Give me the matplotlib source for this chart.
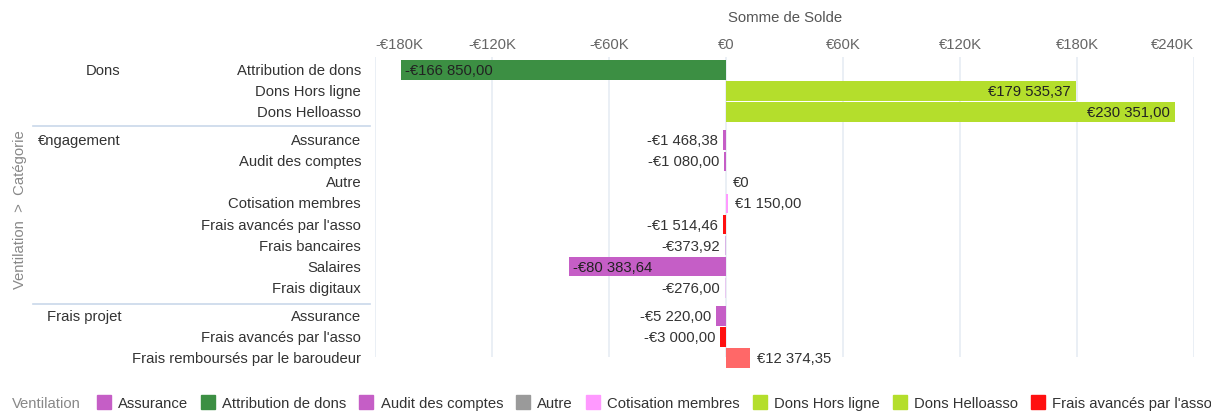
import matplotlib
matplotlib.use('Agg')
import matplotlib.pyplot as plt
import matplotlib.transforms as mtransforms
from matplotlib.lines import Line2D

plt.rcParams['font.family'] = ['Liberation Sans', 'DejaVu Sans']

# données
groupes = ['Dons', '€ngagement', 'Frais projet']
ventilation = [
    ['Attribution de dons', 'Dons Hors ligne', 'Dons Helloasso'],
    ['Assurance', 'Audit des comptes', 'Autre', 'Cotisation membres',
     "Frais avancés par l'asso", 'Frais bancaires', 'Salaires', 'Frais digitaux'],
    ['Assurance', "Frais avancés par l'asso", 'Frais remboursés par le baroudeur'],
]
soldes = [
    [-166850.00, 179535.37, 230351.00],
    [-1468.38, -1080.00, 0.0, 1150.00, -1514.46, -373.92, -80383.64, -276.00],
    [-5220.00, -3000.00, 12374.35],
]
couleurs = {
    'Assurance': '#c55ec6',
    'Attribution de dons': '#3c8f43',
    'Audit des comptes': '#c55ec6',
    'Autre': '#9a9a9a',
    'Cotisation membres': '#ff99ff',
    'Dons Hors ligne': '#b4de2c',
    'Dons Helloasso': '#b4de2c',
    "Frais avancés par l'asso": '#ff1010',
    'Frais bancaires': '#d9b3e6',
    'Salaires': '#c55ec6',
    'Frais digitaux': '#e8c8f0',
    'Frais remboursés par le baroudeur': '#ff6868',
}
legende = ['Assurance', 'Attribution de dons', 'Audit des comptes', 'Autre',
           'Cotisation membres', 'Dons Hors ligne', 'Dons Helloasso',
           "Frais avancés par l'asso"]
ticks = [-180000, -120000, -60000, 0, 60000, 120000, 180000, 240000]
tick_labels = ['-€180K', '-€120K', '-€60K', '€0', '€60K', '€120K', '€180K', '€240K']

FS = 10.7


def fmt(v):
    if v == 0:
        return '€0'
    s = f'{abs(v):,.2f}'.replace(',', ' ').replace('.', ',')
    return ('-' if v < 0 else '') + '€' + s


W, H = 1211, 414
fig = plt.figure(figsize=(W / 100, H / 100), dpi=100)
ax = fig.add_axes([375 / W, 1 - 371 / H, (1194 - 375) / W, (371 - 58) / H])

gap = 0.333
ys, labels, vals, group_y = [], [], [], []
i = 0
for g, (noms, vs) in enumerate(zip(ventilation, soldes)):
    group_y.append(i + g * gap)
    for n, v in zip(noms, vs):
        ys.append(i + g * gap)
        labels.append(n)
        vals.append(v)
        i += 1

row_px = (359 - 71) / ys[-1]
top = -(71 - 58) / row_px
bottom = ys[-1] + (371 - 359) / row_px
ax.set_ylim(bottom, top)
ax.set_xlim(ticks[0], ticks[-1])

# grille
ax.vlines(ticks, top, ys[-1] - 1 / row_px, colors='#e6ecf3', lw=1.2, zorder=0)

ax.barh(ys, vals, height=0.93, color=[couleurs[n] for n in labels], zorder=2)

px = (ticks[-1] - ticks[0]) / (1194 - 375)
for y, v in zip(ys, vals):
    if abs(v) > 50000:
        if v < 0:
            ax.text(v + 4 * px, y, fmt(v), ha='left', va='center', fontsize=FS, color='#222222', zorder=3)
        else:
            ax.text(v - 5 * px, y, fmt(v), ha='right', va='center', fontsize=FS, color='#222222', zorder=3)
    elif v < 0:
        ax.text(v - 5 * px, y, fmt(v), ha='right', va='center', fontsize=FS, color='#333333')
    else:
        ax.text(v + 7 * px, y, fmt(v), ha='left', va='center', fontsize=FS, color='#333333')

ax.set_xticks([])
ax.set_yticks([])
for s in ax.spines.values():
    s.set_visible(False)

# ticks en haut
for t, l in zip(ticks, tick_labels):
    ha = 'center'
    if t == ticks[0]:
        ha = 'left'
    elif t == ticks[-1]:
        ha = 'right'
    ax.annotate(l, (t, top), xytext=(0, 9.5), textcoords='offset points',
                ha=ha, va='center', fontsize=FS, color='#666666', annotation_clip=False)

fig.text(785 / W, 1 - 18 / H, 'Somme de Solde', ha='center', va='center', fontsize=FS, color='#555555')

# étiquettes de lignes
for y, n in zip(ys, labels):
    ax.annotate(n, (ticks[0], y), xytext=(-10, 0), textcoords='offset points',
                ha='right', va='center', fontsize=FS, color='#333333', annotation_clip=False)

trans = mtransforms.blended_transform_factory(fig.transFigure, ax.transData)
grp_x = [86, 38, 47]
for gx, gy, g in zip(grp_x, group_y, groupes):
    ax.text(gx / W, gy, g, transform=trans, ha='left', va='center', fontsize=FS, color='#333333')

for sy in [127, 305]:
    fig.add_artist(Line2D([33 / W, 370 / W], [1 - sy / H, 1 - sy / H], color='#c9d8ea', lw=1.2))

fig.text(20 / W, 1 - 210 / H, 'Ventilation  >  Catégorie', rotation=90, ha='center', va='center',
         fontsize=FS, color='#888888')

# légende
fig.text(12 / W, 1 - 404 / H, 'Ventilation', ha='left', va='center', fontsize=FS, color='#888888')
handles = [Line2D([], [], marker='s', ls='', markersize=10, color=couleurs[n]) for n in legende]
fig.legend(handles, legende, loc='center left', bbox_to_anchor=(97 / W, 1 - 404 / H), ncol=len(legende),
           frameon=False, fontsize=FS, handlelength=0.9, handletextpad=0.5, columnspacing=0.9,
           borderaxespad=0, borderpad=0, labelcolor='#333333')

fig.savefig('out.png', dpi=100)
